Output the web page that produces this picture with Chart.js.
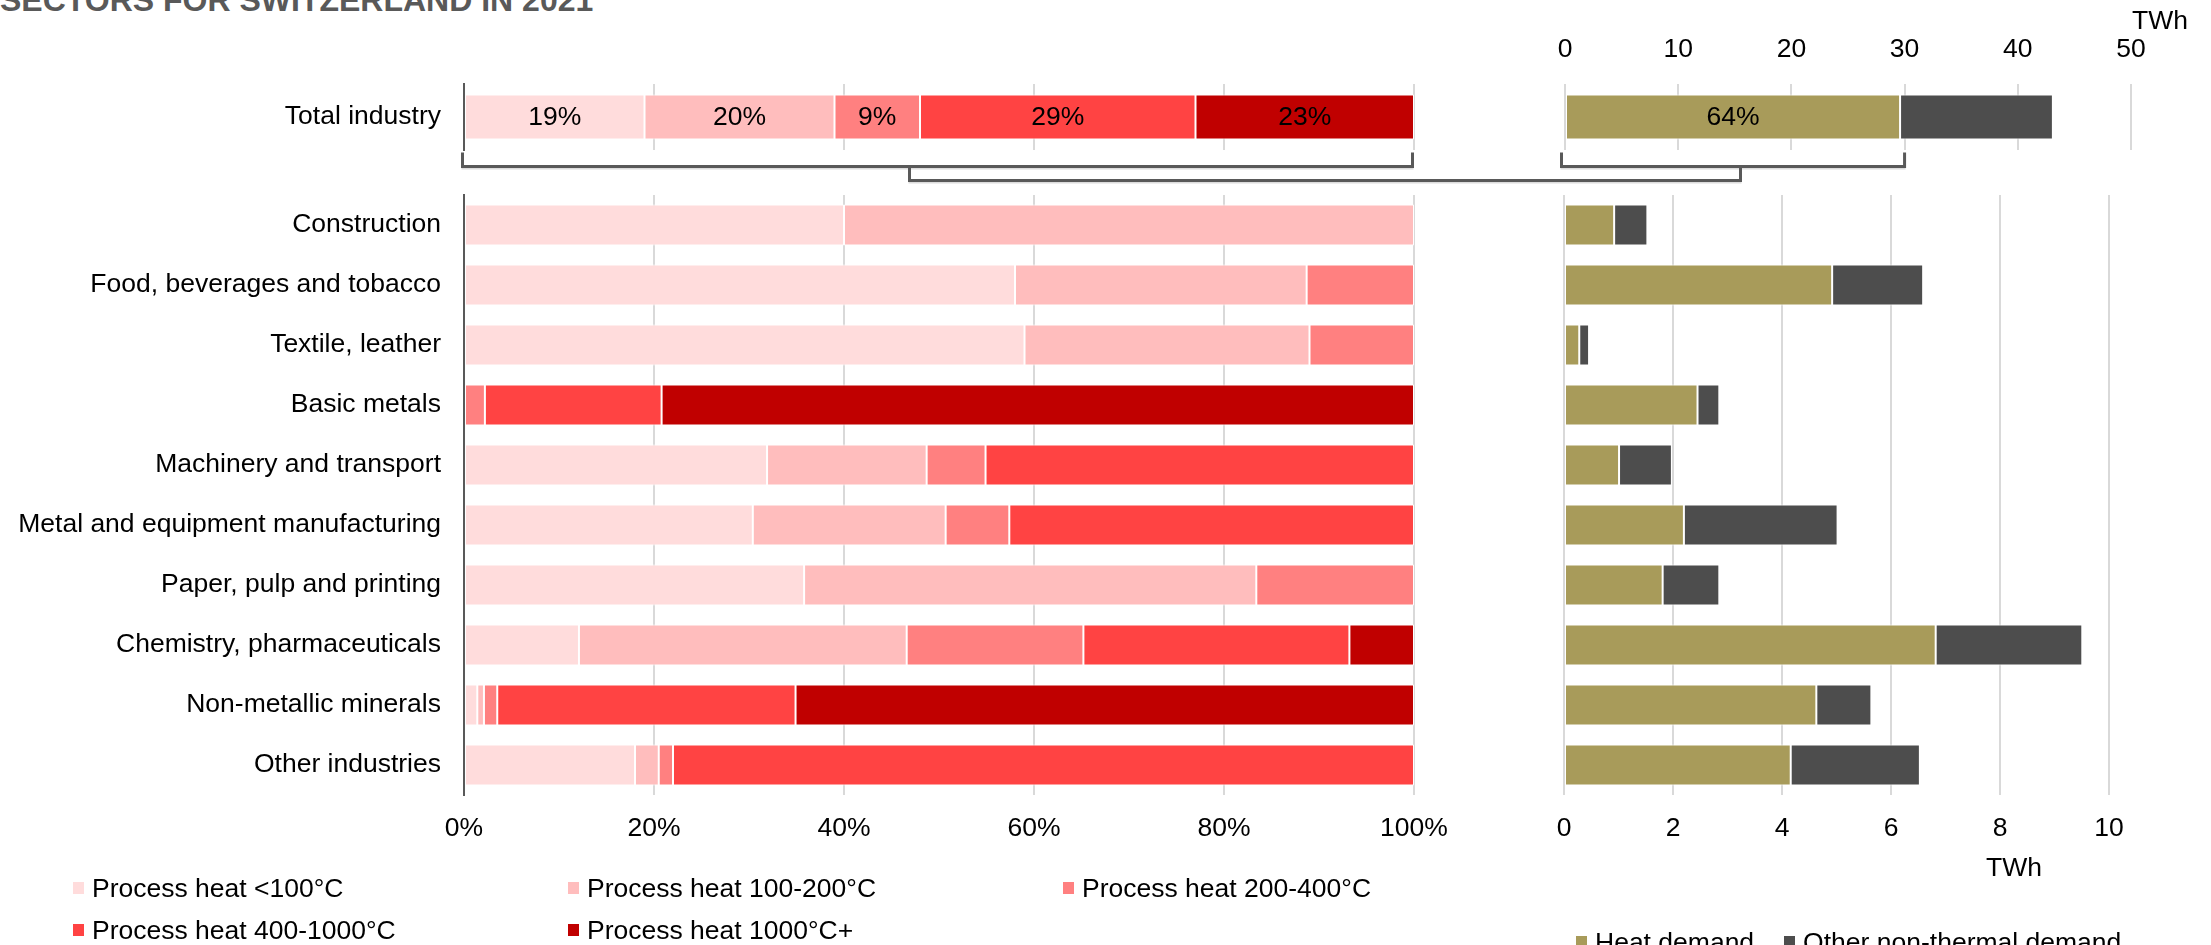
<!DOCTYPE html>
<html>
<head>
<meta charset="utf-8">
<title>Process heat demand by temperature level</title>
<script src="https://cdn.jsdelivr.net/npm/chart.js@4.4.1/dist/chart.umd.min.js"></script>
<style>
  body { margin: 0; background: #fff; }
  #page { position: relative; width: 2211px; height: 945px; overflow: hidden; font-family: "Liberation Sans", Arial, sans-serif; }
  #page canvas { position: absolute; left: 0; top: 0; }
  #brackets { pointer-events: none; }
  .title { position: absolute; left: 0; top: -16px; font-size: 32px; line-height: 32px; font-weight: bold; color: #595959; white-space: nowrap; }
  .unit { position: absolute; font-size: 26.5px; line-height: 30px; color: #000; transform: translate(-50%, -50%); }
  .legend { position: absolute; font-size: 26.5px; color: #000; }
  .legend .item { display: flex; align-items: center; height: 42px; white-space: nowrap; }
  .legend .box { width: 11px; height: 12px; margin-right: 8px; flex: none; }
  #bandLegend { left: 73px; top: 867px; display: grid; grid-template-columns: 495px 495px 495px; }
  #demandLegend { left: 1576px; top: 921px; display: flex; }
  #demandLegend .item { margin-right: 30px; }
</style>
</head>
<body>
<div id="page">
  <div class="title">SECTORS FOR SWITZERLAND IN 2021</div>
  <canvas id="pctTotal" width="2211" height="945"></canvas>
  <canvas id="pctSectors" width="2211" height="945"></canvas>
  <canvas id="twhTotal" width="2211" height="945"></canvas>
  <canvas id="twhSectors" width="2211" height="945"></canvas>
  <canvas id="brackets" width="2211" height="945"></canvas>
  <div class="unit" style="left:2160px;top:20px">TWh</div>
  <div class="unit" style="left:2014px;top:867px">TWh</div>
  <div class="legend" id="bandLegend"></div>
  <div class="legend" id="demandLegend"></div>
</div>
<script>
// Industry sectors (rows of the lower charts)
const sectors = [
  'Construction',
  'Food, beverages and tobacco',
  'Textile, leather',
  'Basic metals',
  'Machinery and transport',
  'Metal and equipment manufacturing',
  'Paper, pulp and printing',
  'Chemistry, pharmaceuticals',
  'Non-metallic minerals',
  'Other industries'
];
const totalLabel = ['Total industry'];

// Share of process heat by temperature band (%)
const heatBands = ['Process heat <100°C', 'Process heat 100-200°C', 'Process heat 200-400°C', 'Process heat 400-1000°C', 'Process heat 1000°C+'];
const totalShares = [19, 20, 9, 29, 23];
const below100 = [40, 58, 59, 0, 31.9, 30.4, 35.8, 12.1, 1.4, 18.0];
const from100to200 = [60, 30.7, 30, 0, 16.8, 20.3, 47.6, 34.5, 0.7, 2.5];
const from200to400 = [0, 11.3, 11, 2.2, 6.2, 6.7, 16.6, 18.6, 1.4, 1.5];
const from400to1000 = [0, 0, 0, 18.6, 45.1, 42.6, 0, 28.0, 31.4, 78.0];
const above1000 = [0, 0, 0, 79.2, 0, 0, 0, 6.8, 65.1, 0];

// Final energy demand (TWh)
const demandTypes = ['Heat demand', 'Other non-thermal demand'];
const heatDemand = [0.92, 4.92, 0.28, 2.45, 1.01, 2.20, 1.81, 6.82, 4.63, 4.16];
const otherDemand = [0.61, 1.67, 0.18, 0.40, 0.97, 2.82, 1.04, 2.69, 1.01, 2.37];
const heatTotal = [29.6];
const otherTotal = [13.5];
const heatShareTotal = 64;

// Tick setup
const pctTicks = { min: 0, max: 100, step: 20 };
const twhTotalTicks = { min: 0, max: 50, step: 10 };
const twhSectorTicks = { min: 0, max: 10, step: 2 };

const bandColors = ['#ffdcdc', '#ffbdbd', '#ff8080', '#ff4343', '#c00000'];
const demandColors = ['#a89b5a', '#4d4d4d'];
const GRID = '#d9d9d9';
const AXIS = '#595959';
const FONT = "'Liberation Sans', Arial, sans-serif";

Chart.defaults.font.family = FONT;
Chart.defaults.font.size = 26.5;
Chart.defaults.color = '#000';
Chart.defaults.animation = false;

const W = 2211, H = 945;

// writes text in the middle of chosen bar segments
const segmentLabels = {
  id: 'segmentLabels',
  afterDatasetsDraw(chart, args, opts) {
    if (!opts.items) return;
    const ctx = chart.ctx;
    ctx.save();
    ctx.font = '26.5px ' + FONT;
    ctx.fillStyle = '#000';
    ctx.textAlign = 'center';
    ctx.textBaseline = 'middle';
    opts.items.forEach(it => {
      const bar = chart.getDatasetMeta(it.dataset).data[0];
      const p = bar.getProps(['x', 'y', 'base'], true);
      ctx.fillText(it.text, (p.x + p.base) / 2, p.y + 1);
    });
    ctx.restore();
  }
};
Chart.register(segmentLabels);

function barSet(label, values, color) {
  return {
    label: label,
    data: values.map(v => v || null),
    backgroundColor: color,
    borderColor: '#fff',
    borderWidth: 1,
    borderSkipped: false,
    categoryPercentage: 1,
    barPercentage: 0.68
  };
}

function hbarChart(id, labels, datasets, area, xOpts, yOpts, items) {
  return new Chart(document.getElementById(id), {
    type: 'bar',
    data: { labels: labels, datasets: datasets },
    options: {
      indexAxis: 'y',
      responsive: false,
      layout: { padding: area },
      plugins: { legend: { display: false }, tooltip: { enabled: false }, segmentLabels: { items: items } },
      scales: {
        x: Object.assign({
          stacked: true,
          grid: { color: GRID, lineWidth: 2, drawTicks: false },
          border: { display: false }
        }, xOpts),
        y: Object.assign({
          stacked: true,
          grid: { display: false, drawTicks: false }
        }, yOpts)
      }
    }
  });
}

const bandSeries = [below100, from100to200, from200to400, from400to1000, above1000];

// left: total industry, shares by temperature
const pctTotal = hbarChart('pctTotal', totalLabel,
  heatBands.map((b, i) => barSet(b, [totalShares[i]], bandColors[i])),
  { left: 0, right: W - 1414, top: 84, bottom: H - 150 },
  { min: pctTicks.min, max: pctTicks.max, ticks: { display: false, stepSize: pctTicks.step }, afterFit: s => { s.height = 0; } },
  { ticks: { padding: 23 }, border: { color: AXIS, width: 2 }, afterFit: s => { s.width = 464; } },
  totalShares.map((v, i) => ({ dataset: i, text: v + '%' }))
);

// left: sectors, shares by temperature
const pctSectors = hbarChart('pctSectors', sectors,
  heatBands.map((b, i) => barSet(b, bandSeries[i], bandColors[i])),
  { left: 0, right: W - 1414, top: 195, bottom: H - 795 - 50 },
  { min: pctTicks.min, max: pctTicks.max,
    ticks: { stepSize: pctTicks.step, padding: 18, maxRotation: 0, callback: v => v + '%' },
    afterFit: s => { s.height = 50; } },
  { ticks: { padding: 23, autoSkip: false }, border: { color: AXIS, width: 2 }, afterFit: s => { s.width = 464; } },
  null
);

// right: total industry demand in TWh
const twhTotal = hbarChart('twhTotal', totalLabel,
  [barSet(demandTypes[0], heatTotal, demandColors[0]), barSet(demandTypes[1], otherTotal, demandColors[1])],
  { left: 1565, right: W - 2131, top: 84 - 60, bottom: H - 150 },
  { position: 'top', min: twhTotalTicks.min, max: twhTotalTicks.max,
    ticks: { stepSize: twhTotalTicks.step, padding: 18, maxRotation: 0 },
    afterFit: s => { s.height = 60; } },
  { ticks: { display: false }, border: { display: false }, afterFit: s => { s.width = 0; } },
  [{ dataset: 0, text: heatShareTotal + '%' }]
);

// right: sector demand in TWh
const twhSectors = hbarChart('twhSectors', sectors,
  [barSet(demandTypes[0], heatDemand, demandColors[0]), barSet(demandTypes[1], otherDemand, demandColors[1])],
  { left: 1564, right: W - 2109, top: 195, bottom: H - 795 - 50 },
  { min: twhSectorTicks.min, max: twhSectorTicks.max,
    ticks: { stepSize: twhSectorTicks.step, padding: 18, maxRotation: 0 },
    afterFit: s => { s.height = 50; } },
  { ticks: { display: false }, border: { display: false }, afterFit: s => { s.width = 0; } },
  null
);

// bracket linking the total bar (100%) to its heat share in TWh
function drawBrackets() {
  const ctx = document.getElementById('brackets').getContext('2d');
  const lx = pctTotal.scales.x, rx = twhTotal.scales.x;
  const yTop = pctTotal.chartArea.bottom + 2.5;
  const yMid = yTop + 14;
  const yLow = yMid + 14;
  const l0 = lx.getPixelForValue(0) - 1.5, l1 = lx.getPixelForValue(100) - 1.5;
  const r0 = rx.getPixelForValue(0) - 3.5, r1 = rx.getPixelForValue(heatTotal[0]) + 4.5;
  const lm = Math.round(l0 + (l1 - l0) * 0.47) + 0.5;
  const rm = Math.round(r0 + (r1 - r0) * 0.52) + 0.5;

  const path = (dy) => {
    ctx.beginPath();
    ctx.moveTo(l0, yTop + dy); ctx.lineTo(l0, yMid + dy); ctx.lineTo(l1, yMid + dy); ctx.lineTo(l1, yTop + dy);
    ctx.moveTo(r0, yTop + dy); ctx.lineTo(r0, yMid + dy); ctx.lineTo(r1, yMid + dy); ctx.lineTo(r1, yTop + dy);
    ctx.moveTo(lm, yMid + dy); ctx.lineTo(lm, yLow + dy); ctx.lineTo(rm, yLow + dy); ctx.lineTo(rm, yMid + dy);
    ctx.stroke();
  };
  ctx.lineJoin = 'miter';
  ctx.lineWidth = 2;
  ctx.strokeStyle = '#dcdcdc';
  path(2);
  ctx.lineWidth = 3;
  ctx.strokeStyle = AXIS;
  path(0);
}
drawBrackets();

// legends
function fillLegend(el, names, colors) {
  names.forEach((n, i) => {
    const item = document.createElement('div');
    item.className = 'item';
    const box = document.createElement('span');
    box.className = 'box';
    box.style.background = colors[i];
    item.appendChild(box);
    item.appendChild(document.createTextNode(n));
    el.appendChild(item);
  });
}
fillLegend(document.getElementById('bandLegend'), heatBands, bandColors);
fillLegend(document.getElementById('demandLegend'), demandTypes, demandColors);
</script>
</body>
</html>
